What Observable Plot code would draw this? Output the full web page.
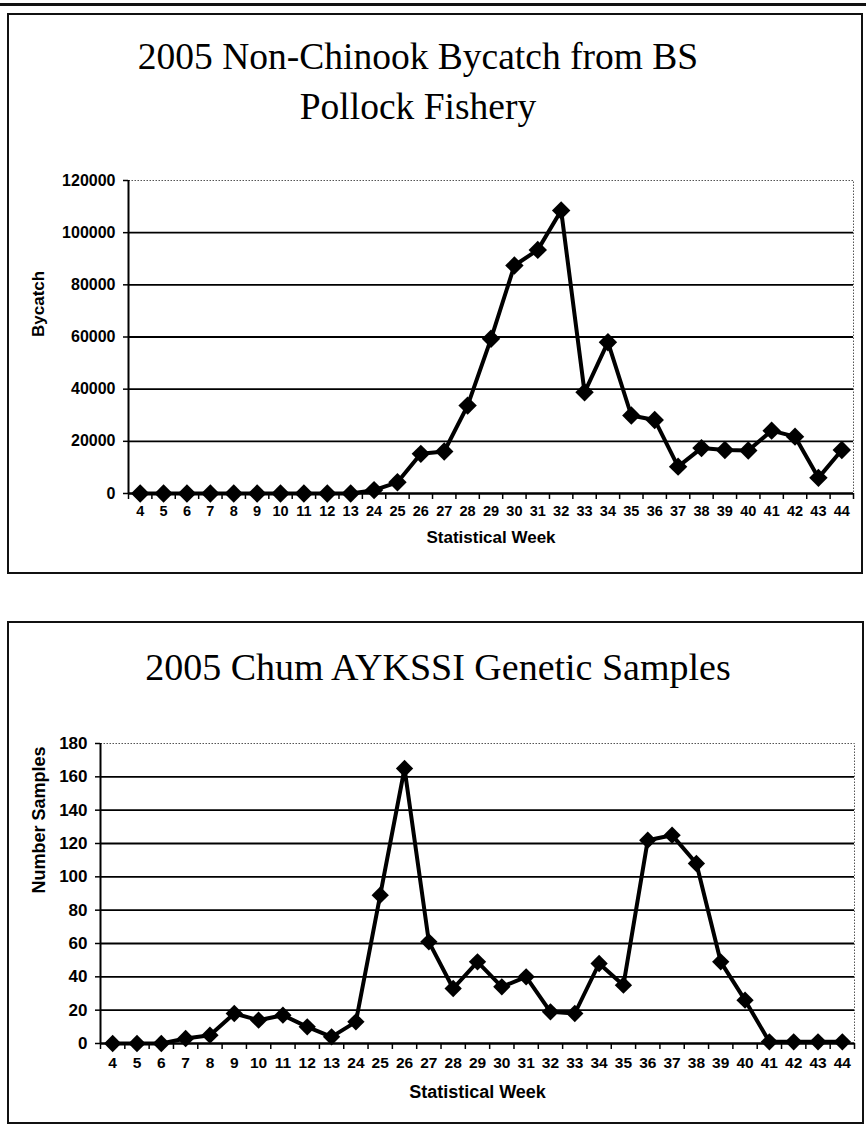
<!DOCTYPE html>
<html>
<head>
<meta charset="utf-8">
<script src="https://cdn.jsdelivr.net/npm/d3@7"></script>
<script src="https://cdn.jsdelivr.net/npm/@observablehq/plot@0.6"></script>
<style>
  body { margin: 0; background: #fff; }
  #page { position: relative; width: 866px; height: 1125px; overflow: hidden; background: #fff; }
  .page-rule { position: absolute; left: 0; top: 3px; width: 866px; height: 3px; background: #111; }
  .box { position: absolute; border: 2px solid #111; box-sizing: border-box; }
  .title { position: absolute; font-family: "Liberation Serif", "Times New Roman", serif; color: #000;
           text-align: center; white-space: nowrap; line-height: 50px; }
  .chart { position: absolute; left: 0; }
</style>
</head>
<body>
<div id="page">
  <div class="page-rule"></div>

  <div class="box" style="left:7px; top:13px; width:856px; height:561px;"></div>
  <div class="title" style="left:8px; width:820px; top:32px; font-size:37.5px;">2005 Non-Chinook Bycatch from BS<br>Pollock Fishery</div>
  <div id="chart1" class="chart" style="top:140px;"></div>

  <div class="box" style="left:7px; top:621px; width:857px; height:503px;"></div>
  <div class="title" style="left:8px; width:860px; top:642px; font-size:38px;">2005 Chum AYKSSI Genetic Samples</div>
  <div id="chart2" class="chart" style="top:700px;"></div>
</div>

<script>
// Statistical weeks with data (4–13, then 24–44)
const weeks = [4, 5, 6, 7, 8, 9, 10, 11, 12, 13,
               24, 25, 26, 27, 28, 29, 30, 31, 32, 33, 34, 35, 36, 37, 38, 39, 40, 41, 42, 43, 44];

// Non-Chinook salmon bycatch per week, BS pollock fishery 2005
const bycatch = [0, 0, 0, 0, 0, 0, 0, 0, 0, 0,
                 1300, 4300, 15200, 16100, 33700, 59300, 87400, 93400, 108500, 38800, 58000,
                 29900, 28200, 10300, 17400, 16700, 16500, 24100, 21800, 6000, 16700];

// Chum AYKSSI genetic samples per week, 2005
const samples = [0, 0, 0, 3, 5, 18, 14, 17, 10, 4,
                 13, 89, 165, 61, 33, 49, 34, 40, 19, 18, 48,
                 35, 122, 125, 108, 49, 26, 1, 1, 1, 1];

const bycatchTicks = [0, 20000, 40000, 60000, 80000, 100000, 120000];
const sampleTicks = [0, 20, 40, 60, 80, 100, 120, 140, 160, 180];

const xTitle = "Statistical Week";

function weeklyChart(o) {
  const n = weeks.length;
  const rows = weeks.map((week, i) => ({week, i, value: o.values[i]}));
  const mid = d => d.i + 0.5;                 // category centre on the index axis
  const yMax = o.ticks[o.ticks.length - 1];
  return Plot.plot({
    width: 866,
    height: o.height,
    marginLeft: o.mL, marginRight: o.mR, marginTop: o.mT, marginBottom: o.mB,
    style: {background: "none", color: "#000", fontFamily: '"Liberation Sans", Arial, sans-serif', fontWeight: "bold"},
    x: {type: "linear", domain: [0, n], axis: null, label: null},
    y: {type: "linear", domain: [0, yMax], axis: null, label: null},
    marks: [
      // dotted plot-area border
      Plot.frame({stroke: "#555", strokeWidth: 1, strokeDasharray: "1.5,1.5"}),
      // solid horizontal gridlines below the top edge
      Plot.gridY(o.ticks.slice(0, -1), {stroke: "#000", strokeOpacity: 1, strokeWidth: 1.8}),
      // value axis labels and ticks
      Plot.axisY({ticks: o.ticks, tickSize: 5, tickPadding: 8, fontSize: o.yFont, tickFormat: d => String(d), label: null, strokeWidth: 1.5}),
      // category boundary ticks
      Plot.axisX({ticks: d3.range(n + 1), tickSize: 6, tickFormat: () => "", label: null, strokeWidth: 1.5}),
      // category labels centred between ticks
      Plot.axisX({ticks: rows.map(mid), tickSize: 0, tickPadding: o.xPad, fontSize: o.xFont,
                  tickFormat: x => String(weeks[Math.floor(x)]), label: null}),
      // axis lines
      Plot.ruleX([0], {stroke: "#000", strokeWidth: 2}),
      Plot.ruleY([0], {stroke: "#000", strokeWidth: 2}),
      // series
      Plot.line(rows, {x: mid, y: "value", stroke: "#000", strokeWidth: 4, strokeLinejoin: "miter"}),
      Plot.dot(rows, {x: mid, y: "value", symbol: "diamond2", r: o.r, fill: "#000", stroke: "none"}),
      // axis titles
      Plot.text([o.yTitle], {frameAnchor: "left", dx: o.yTitleDx, rotate: -90, fontSize: o.titleFont, fontWeight: "bold", fill: "#000"}),
      Plot.text([xTitle], {frameAnchor: "bottom", lineAnchor: "middle", dy: o.xTitleDy, fontSize: o.titleFont, fontWeight: "bold", fill: "#000"})
    ]
  });
}

document.getElementById("chart1").append(weeklyChart({
  values: bycatch, ticks: bycatchTicks, yTitle: "Bycatch",
  height: 430, mL: 128, mR: 13, mT: 40, mB: 77,
  yFont: 16, xFont: 14.5, xPad: 12, titleFont: 17,
  yTitleDx: -90, xTitleDy: 44, r: 8.3
}));

document.getElementById("chart2").append(weeklyChart({
  values: samples, ticks: sampleTicks, yTitle: "Number Samples",
  height: 420, mL: 100, mR: 12, mT: 43, mB: 77,
  yFont: 17, xFont: 15.5, xPad: 13, titleFont: 18,
  yTitleDx: -61, xTitleDy: 49, r: 7.8
}));
</script>
</body>
</html>
